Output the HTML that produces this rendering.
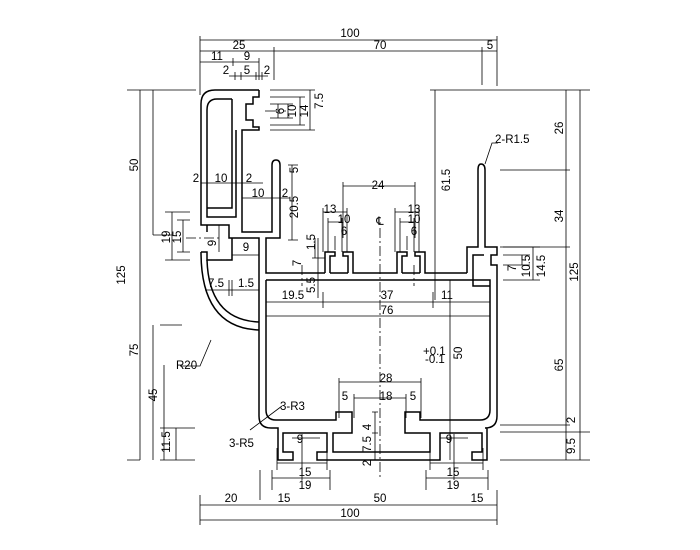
<!DOCTYPE html>
<html><head><meta charset="utf-8"><style>
html,body{margin:0;padding:0;background:#fff;}
svg{display:block;}
text{font-family:"Liberation Sans",sans-serif;font-size:11.5px;fill:#000;}
</style></head><body>
<svg width="700" height="550" viewBox="0 0 700 550" xmlns="http://www.w3.org/2000/svg">
<g fill="none" stroke="#000" stroke-width="1.5" stroke-linejoin="miter">
<!-- top left C (upright) -->
<path d="M259,90 L215,90 Q201,90 201,104 L201,225 L229,225 L229,238 L259,238 L259,416 Q259,428 271,428 L278,428 L278,460 L293,460 L293,452 L283,452 L283,433 L327,433 L327,452 L317,452 L317,460 L440,460 L440,433 L482,433 L482,452 L472,452 L472,460 L487,460 L487,428 L485,428 Q497,428 497,416 L497,265 L491,265 L491,255 L497,255 L497,247 L485,247 L485,170 Q485,164 481,164 Q478,164 478,170 L478,247 L467,247 L467,273"/>
<path d="M259,90 L259,97 L253,97 L253,104 L246,104 L246,120 L253,120 L253,127 L259,127 L259,130 L242,130 L242,232 L272,232 L272,165"/>
<path d="M232,99 L217,99 Q207,99 207,110 L207,217 L236,217 L236,130 M232,99 L232,208 L207,208"/>
<path d="M272,165 Q272,160 276,160 Q280,160 280,165 L280,238 L266,238 L266,273 L325,273"/>
<!-- left slot -->
<path d="M207,225 L207,232 M201,252 L207,252 L207,260 L232,260 L232,238"/>
<path d="M201,252 Q201,328 259,330"/>
<path d="M207,260 Q209,320 259,322"/>
<!-- top rail -->
<path d="M325,273 L325,252 L335,252 L335,256 L330,256 L330,273 M348,273 L348,256 L343,256 L343,252 L353,252 L353,273 L397,273 L397,252 L407,252 L407,256 L402,256 L402,273 M420,273 L420,256 L415,256 L415,252 L425,252 L425,273 L467,273"/>
<path d="M330,273 L348,273 M402,273 L420,273"/>
<!-- inner box -->
<path d="M266,280 L266,410 Q266,420 276,420 L336,420 L336,412 L352,412 L352,433 L333,433 L333,452 L430,452 L430,433 L405,433 L405,412 L420,412 L420,420 L480,420 Q490,420 490,410 L490,286 L473,286 L473,255 L484,255 M490,286 L490,280 L266,280"/>
</g>
<!-- centre lines -->
<g stroke="#000" stroke-width="0.8" stroke-dasharray="10,3,2,3" fill="none">
<path d="M380,228 L380,480"/>
<path d="M186,238 L222,238"/>
<path d="M265,111 L286,111"/>
<path d="M302,265 L302,286 M414,265 L414,286"/>
</g>
<!-- dimension lines -->
<g stroke="#000" stroke-width="0.8" fill="none">
<path d="M200,36 L200,95 M497,36 L497,86 M200,40 L497,40"/>
<path d="M274,47 L274,80 M482,47 L482,85 M200,51 L497,51"/>
<path d="M200,62 L259,62 M233,58 L233,66 M259,58 L259,80"/>
<path d="M229,76 L268,76 M235,72 L235,80 M241,72 L241,80 M256,72 L256,80 M262,72 L262,80"/>
<path d="M270,90 L315,90 M270,97 L305,97 M270,104 L293,104 M270,118 L293,118 M270,125 L305,125 M270,130 L315,130 M310,90 L310,130 M300,97 L300,125 M288,104 L288,118 M278,104 L278,118"/>
<path d="M127,90 L196,90 M140,90 L140,460 M153,90 L153,235 M153,325 L153,460 M160,325 L182,325 M160,428 L195,428 M160,460 L195,460 M153,235 L172,235 M164,365 L164,460 M176,428 L176,460 M127,460 L140,460"/>
<path d="M165,212 L190,212 M165,260 L190,260 M172,212 L172,260 M183,220 L183,252 M177,220 L190,220 M177,252 L190,252 M219,225 L219,252"/>
<path d="M201,183 L263,183 M242,198 L290,198 M288,165 L298,165 M288,240 L298,240 M292,165 L292,240"/>
<path d="M232,255 L259,255 M205,290 L259,290 M229,280 L229,296 M232,280 L232,296"/>
<path d="M318,238 L318,298 M312,258 L325,258 M315,238 L315,258"/>
<path d="M343,186 L415,186 M343,182 L343,238 M415,182 L415,238"/>
<path d="M323,212 L347,212 M323,208 L323,252 M347,208 L347,252 M328,222 L342,222 M328,218 L328,252 M342,218 L342,252 M335,236 L335,250"/>
<path d="M395,212 L419,212 M395,208 L395,252 M419,208 L419,252 M400,222 L414,222 M400,218 L400,252 M414,218 L414,252 M407,236 L407,250"/>
<path d="M266,302 L490,302 M266,316 L490,316 M323,292 L323,308 M433,292 L433,308"/>
<path d="M435,90 L435,300 M450,280 L450,460 M430,90 L590,90 M500,170 L570,170 M500,247 L570,247 M500,425 L570,425 M500,432 L590,432 M500,460 L590,460 M566,90 L566,460 M580,90 L580,460"/>
<path d="M503,247 L540,247 M503,255 L530,255 M503,265 L530,265 M503,280 L540,280 M522,255 L522,265 M533,247 L533,280"/>
<path d="M339,382 L421,382 M339,378 L339,418 M421,378 L421,418 M354,398 L406,398 M354,394 L354,418 M406,394 L406,418"/>
<path d="M375,412 L375,460 M372,412 L378,412 M372,433 L378,433 M372,452 L378,452"/>
<path d="M292,438 L320,438 M302,434 L302,480 M277,463 L327,463 M277,448 L277,470 M327,448 L327,470 M272,478 L330,478 M272,470 L272,490 M330,470 L330,490"/>
<path d="M440,438 L468,438 M454,434 L454,480 M430,463 L483,463 M430,448 L430,470 M483,448 L483,470 M426,478 L488,478 M426,470 L426,490 M488,470 L488,490"/>
<path d="M200,495 L200,525 M497,490 L497,525 M260,470 L260,500 M200,505 L497,505 M200,520 L497,520"/>
<path d="M180,366 L200,366 L211,340 M250,430 L282,406"/>
<path d="M485,164 L492,143 L498,143"/>
</g>
<!-- texts -->
<g>
<text x="350" y="37" text-anchor="middle">100</text>
<text x="239" y="49" text-anchor="middle">25</text>
<text x="380" y="49" text-anchor="middle">70</text>
<text x="490" y="49" text-anchor="middle">5</text>
<text x="217" y="60" text-anchor="middle">11</text>
<text x="247" y="60" text-anchor="middle">9</text>
<text x="226" y="74" text-anchor="middle">2</text>
<text x="247" y="74" text-anchor="middle">5</text>
<text x="267" y="74" text-anchor="middle">2</text>
<text x="196" y="182" text-anchor="middle">2</text>
<text x="221" y="182" text-anchor="middle">10</text>
<text x="249" y="182" text-anchor="middle">2</text>
<text x="258" y="197" text-anchor="middle">10</text>
<text x="285" y="197" text-anchor="middle">2</text>
<text x="246" y="251" text-anchor="middle">9</text>
<text x="216" y="287" text-anchor="middle">7.5</text>
<text x="246" y="287" text-anchor="middle">1.5</text>
<text x="293" y="299" text-anchor="middle">19.5</text>
<text x="387" y="299" text-anchor="middle">37</text>
<text x="447" y="299" text-anchor="middle">11</text>
<text x="387" y="314" text-anchor="middle">76</text>
<text x="378" y="189" text-anchor="middle">24</text>
<text x="330" y="213" text-anchor="middle">13</text>
<text x="344" y="223" text-anchor="middle">10</text>
<text x="344" y="235" text-anchor="middle">6</text>
<text x="414" y="213" text-anchor="middle">13</text>
<text x="414" y="223" text-anchor="middle">10</text>
<text x="414" y="235" text-anchor="middle">6</text>
<text x="380" y="225" text-anchor="middle">℄</text>
<text x="386" y="382" text-anchor="middle">28</text>
<text x="345" y="400" text-anchor="middle">5</text>
<text x="386" y="400" text-anchor="middle">18</text>
<text x="413" y="400" text-anchor="middle">5</text>
<text x="300" y="443" text-anchor="middle">9</text>
<text x="449" y="443" text-anchor="middle">9</text>
<text x="305" y="476" text-anchor="middle">15</text>
<text x="305" y="489" text-anchor="middle">19</text>
<text x="453" y="476" text-anchor="middle">15</text>
<text x="453" y="489" text-anchor="middle">19</text>
<text x="231" y="502" text-anchor="middle">20</text>
<text x="284" y="502" text-anchor="middle">15</text>
<text x="380" y="502" text-anchor="middle">50</text>
<text x="477" y="502" text-anchor="middle">15</text>
<text x="350" y="517" text-anchor="middle">100</text>
<text x="176" y="369">R20</text>
<text x="280" y="410">3-R3</text>
<text x="229" y="447">3-R5</text>
<text x="495" y="143">2-R1.5</text>
<text x="423" y="355">+0.1</text>
<text x="425" y="363">-0.1</text>
</g>
<g>
<text transform="translate(284,111) rotate(-90)" text-anchor="middle">6</text>
<text transform="translate(296,111) rotate(-90)" text-anchor="middle">10</text>
<text transform="translate(308,111) rotate(-90)" text-anchor="middle">14</text>
<text transform="translate(323,101) rotate(-90)" text-anchor="middle">7.5</text>
<text transform="translate(298,170) rotate(-90)" text-anchor="middle">5</text>
<text transform="translate(298,207) rotate(-90)" text-anchor="middle">20.5</text>
<text transform="translate(315,242) rotate(-90)" text-anchor="middle">1.5</text>
<text transform="translate(301,263) rotate(-90)" text-anchor="middle">7</text>
<text transform="translate(315,285) rotate(-90)" text-anchor="middle">5.5</text>
<text transform="translate(170,237) rotate(-90)" text-anchor="middle">19</text>
<text transform="translate(181,237) rotate(-90)" text-anchor="middle">15</text>
<text transform="translate(216,243) rotate(-90)" text-anchor="middle">9</text>
<text transform="translate(138,165) rotate(-90)" text-anchor="middle">50</text>
<text transform="translate(125,275) rotate(-90)" text-anchor="middle">125</text>
<text transform="translate(138,350) rotate(-90)" text-anchor="middle">75</text>
<text transform="translate(157,395) rotate(-90)" text-anchor="middle">45</text>
<text transform="translate(170,442) rotate(-90)" text-anchor="middle">11.5</text>
<text transform="translate(450,180) rotate(-90)" text-anchor="middle">61.5</text>
<text transform="translate(462,353) rotate(-90)" text-anchor="middle">50</text>
<text transform="translate(516,268) rotate(-90)" text-anchor="middle">7</text>
<text transform="translate(530,266) rotate(-90)" text-anchor="middle">10.5</text>
<text transform="translate(545,266) rotate(-90)" text-anchor="middle">14.5</text>
<text transform="translate(563,128) rotate(-90)" text-anchor="middle">26</text>
<text transform="translate(563,216) rotate(-90)" text-anchor="middle">34</text>
<text transform="translate(578,272) rotate(-90)" text-anchor="middle">125</text>
<text transform="translate(563,365) rotate(-90)" text-anchor="middle">65</text>
<text transform="translate(575,420) rotate(-90)" text-anchor="middle">2</text>
<text transform="translate(575,446) rotate(-90)" text-anchor="middle">9.5</text>
<text transform="translate(371,427) rotate(-90)" text-anchor="middle">4</text>
<text transform="translate(371,444) rotate(-90)" text-anchor="middle">7.5</text>
<text transform="translate(371,463) rotate(-90)" text-anchor="middle">2</text>
</g>
</svg>
</body></html>
